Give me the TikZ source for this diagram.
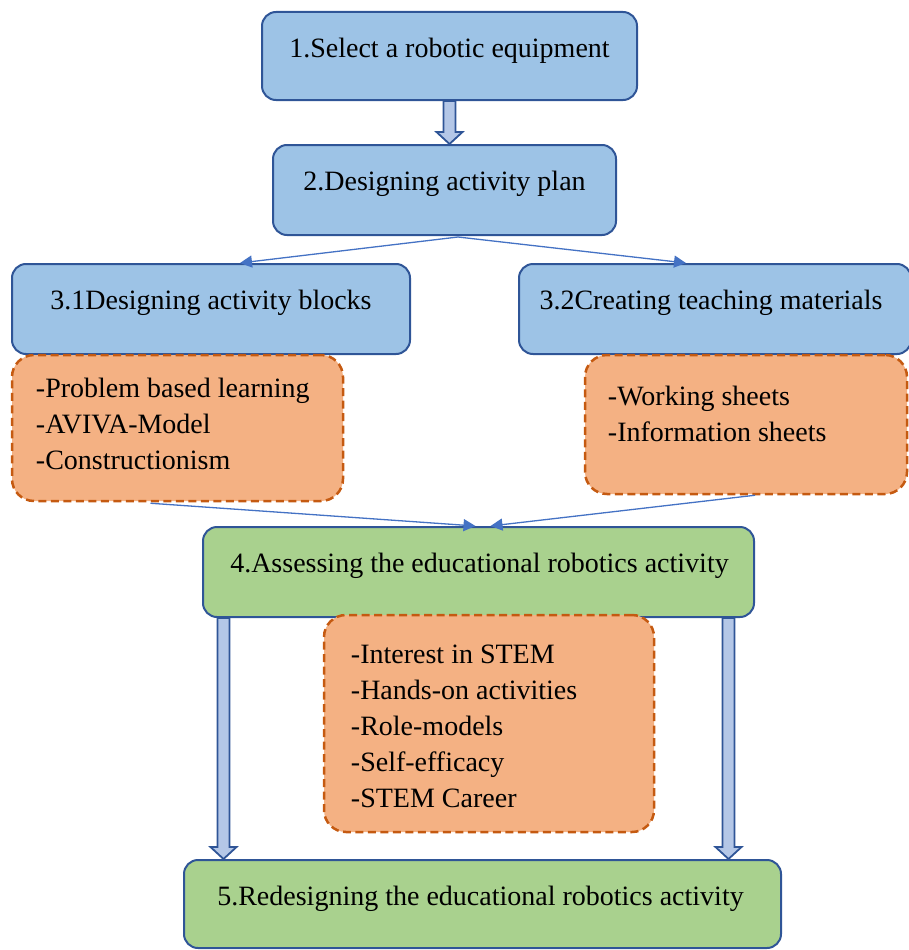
\documentclass[tikz,border=0pt]{standalone}
\usepackage{fontspec}
\setmainfont{Liberation Serif}
\usetikzlibrary{calc,arrows.meta}
\definecolor{stagefill}{HTML}{9DC3E6}
\definecolor{evalfill}{HTML}{A9D18E}
\definecolor{edgeblue}{HTML}{2F5597}
\definecolor{notefill}{HTML}{F4B183}
\definecolor{noteedge}{HTML}{C55A11}
\definecolor{linkblue}{HTML}{4472C4}
\definecolor{shaftblue}{HTML}{B4C7E7}

% block arrow pointing down from the first anchor to the level of the second
\newcommand\hollowarrow[2]{%
  \draw[harrow] let \p1=(#1), \p2=(#2) in
    (\x1-6pt,\y1) -- (\x1-6pt,\y2+12pt) -- (\x1-13pt,\y2+12pt) -- (\x1,\y2)
    -- (\x1+13pt,\y2+12pt) -- (\x1+6pt,\y2+12pt) -- (\x1+6pt,\y1) -- cycle;}

\begin{document}
\begin{tikzpicture}[x=1pt,y=-1pt,
  box/.style={draw=edgeblue, line width=2pt, rounded corners=14pt, inner sep=0pt},
  stage/.style={box, fill=stagefill},
  evalstage/.style={box, fill=evalfill},
  notebox/.style={draw=noteedge, fill=notefill, dash pattern=on 8pt off 4.5pt,
    line width=2.5pt, rounded corners=22pt, inner sep=0pt},
  boxlabel/.style={font=\fontsize{28}{36}\selectfont, inner sep=0pt, anchor=base},
  notetext/.style={font=\fontsize{28}{36}\selectfont, inner sep=0pt,
    anchor=north west, align=left},
  link/.style={draw=linkblue, line width=1.3pt, -{Triangle[length=12pt,width=12pt]}},
  harrow/.style={draw=edgeblue, fill=shaftblue, line width=1.8pt, line join=miter}
]
\useasboundingbox (0,0) rectangle (909,950);

% process stages
\node[stage, minimum width=375, minimum height=88] (b1) at (449.5,56) {};
\node[stage, minimum width=343, minimum height=90] (b2) at (444.5,190) {};
\node[stage, minimum width=398, minimum height=90] (b31) at (211,309) {};
\node[stage, minimum width=392, minimum height=90] (b32) at (715,309) {};
\node[evalstage, minimum width=551, minimum height=90] (b4) at (478.5,572) {};
\node[evalstage, minimum width=597, minimum height=88] (b5) at (482.5,904) {};

% notes
\node[notebox, minimum width=331, minimum height=146] (nA) at (177.5,428) {};
\node[notebox, minimum width=322, minimum height=139] (nB) at (746,424.5) {};
\node[notebox, minimum width=330, minimum height=217] (nC) at (489,723.5) {};

% stage titles
\node[boxlabel] (t1) at ($(b1.north)+(0,46)$) {1.Select a robotic equipment};
\node[boxlabel] (t2) at ($(b2.north)+(0,46)$) {2.Designing activity plan};
\node[boxlabel] (t31) at ($(b31.north)+(0,46)$) {3.1Designing activity blocks};
\node[boxlabel] (t32) at ($(b32.north)+(-4,46)$) {3.2Creating teaching materials};
\node[boxlabel] (t4) at ($(b4.north)+(1,46)$) {4.Assessing the educational robotics activity};
\node[boxlabel] (t5) at ($(b5.north)+(-2,46)$) {5.Redesigning the educational robotics activity};

% note contents
\node[notetext] (lA) at ($(nA.north west)+(25,18.5)$)
  {\strut-Problem based learning\\-AVIVA-Model\\-Constructionism};
\node[notetext] (lB) at ($(nB.north west)+(24,26)$)
  {\strut-Working sheets\\-Information sheets};
\node[notetext] (lC) at ($(nC.north west)+(28,24)$)
  {\strut-Interest in STEM\\-Hands-on activities\\-Role-models\\-Self-efficacy\\-STEM Career};

% connectors
\hollowarrow{b1.south}{b2.north}
\hollowarrow{[xshift=-255pt]b4.south}{b5.north}
\hollowarrow{[xshift=250pt]b4.south}{b5.north}

\draw[link] ($(b2.south)+(13.5,1)$) -- ($(b31.north)+(29,0)$);
\draw[link] ($(b2.south)+(13.5,1)$) -- ($(b32.north)+(-29,0)$);
\draw[link] ($(nA.south)+(-27,1)$) -- ($(b4.north)+(-3,0)$);
\draw[link] ($(nB.south)+(9,0)$) -- ($(b4.north)+(12,0)$);
\end{tikzpicture}
\end{document}
